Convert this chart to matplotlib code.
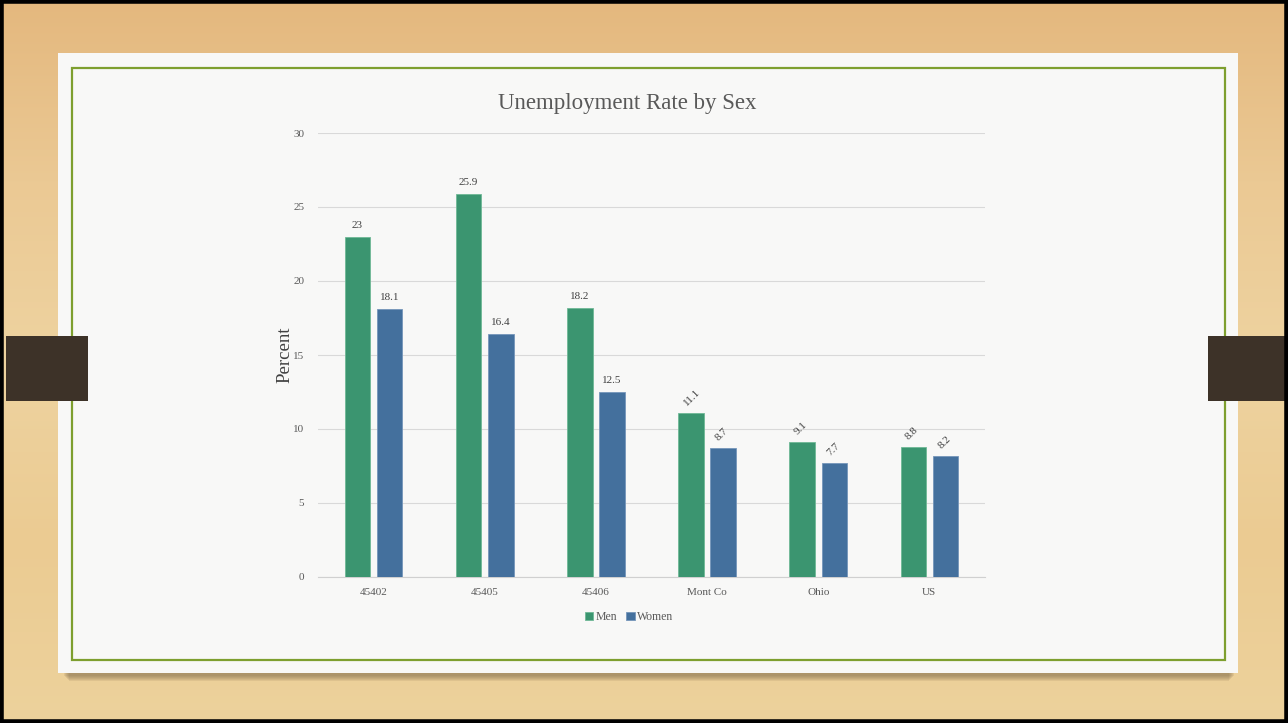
import numpy as np
import matplotlib
matplotlib.use('Agg')
import matplotlib.pyplot as plt
from matplotlib.patches import Rectangle
from matplotlib.colors import LinearSegmentedColormap

# chart data
areas = ['45402', '45405', '45406', 'Mont Co', 'Ohio', 'US']
men = [23, 25.9, 18.2, 11.1, 9.1, 8.8]
women = [18.1, 16.4, 12.5, 8.7, 7.7, 8.2]
y_ticks = [0, 5, 10, 15, 20, 25, 30]

plt.rcParams['font.family'] = ['Liberation Serif', 'DejaVu Serif']

W, H = 1288, 723
fig = plt.figure(figsize=(W / 100, H / 100), dpi=100)
fig.patch.set_facecolor('#EBCB94')

# soft wood-like background gradient
bg = fig.add_axes([0, 0, 1, 1], zorder=0)
bg.axis('off')
wood = LinearSegmentedColormap.from_list('wood', ['#E4B87E', '#EBC994', '#EED3A0', '#EBCB92', '#EDD29C'])
grad = np.linspace(0, 1, 256).reshape(-1, 1)
bg.imshow(grad, cmap=wood, aspect='auto', extent=[0, 1, 0, 1], origin='upper')
bg.set_xlim(0, 1)
bg.set_ylim(0, 1)


def px_rect(x0, y0, x1, y1, **kw):
    # rectangle in pixel coordinates (top-left origin) drawn on the figure
    r = Rectangle((x0 / W, 1 - y1 / H), (x1 - x0) / W, (y1 - y0) / H,
                  transform=fig.transFigure, **kw)
    fig.add_artist(r)
    return r


# card shadow (soft), card, green frame
for i in range(6):
    px_rect(64 + i, 668, 1234 - i, 676 + i, facecolor='#7A6545', edgecolor='none',
            alpha=0.12, zorder=1)
px_rect(58, 53, 1238, 673, facecolor='#F8F8F7', edgecolor='none', zorder=2)
px_rect(72, 68, 1225, 660, facecolor='none', edgecolor='#7E9F2F', linewidth=1.6, zorder=3)

# side clips
px_rect(6, 336, 88, 401, facecolor='#3D3228', edgecolor='none', zorder=4)
px_rect(1208, 336, W, 401, facecolor='#3D3228', edgecolor='none', zorder=4)

# outer black border
px_rect(1, 1, W - 1, H - 1, facecolor='none', edgecolor='black', linewidth=4, zorder=10)

ax = fig.add_axes([318 / W, 1 - 577 / H, (985 - 318) / W, (577 - 133) / H])
ax.set_facecolor('none')
ax.set_zorder(5)

x = np.arange(len(areas))
bw = 0.23
off = 0.145
b1 = ax.bar(x - off, men, bw, color='#3B9570', edgecolor='#6FB896', linewidth=0.6, label='Men', zorder=3)
b2 = ax.bar(x + off, women, bw, color='#44709D', edgecolor='#7596BA', linewidth=0.6, label='Women', zorder=3)

for bars, vals in ((b1, men), (b2, women)):
    for rect, v in zip(bars, vals):
        cx = rect.get_x() + rect.get_width() / 2
        if v >= 12:
            ax.annotate(f'{v:g}', (cx, v), xytext=(0, 5), textcoords='offset points',
                        ha='center', va='bottom', fontsize=8, color='#404040')
        else:
            ax.annotate(f'{v:g}', (cx, v), xytext=(-2, 4), textcoords='offset points',
                        ha='left', va='bottom', rotation=45, rotation_mode='anchor',
                        fontsize=8, color='#404040')

ax.set_xlim(-0.5, len(areas) - 0.5)
ax.set_ylim(0, 30)
ax.set_yticks(y_ticks)
ax.set_xticks(x)
ax.set_xticklabels(areas)
ax.grid(axis='y', color='#D9D9D9', linewidth=0.8, zorder=0)
for s in ['top', 'right', 'left']:
    ax.spines[s].set_visible(False)
ax.spines['bottom'].set_color('#D0D0D0')
ax.tick_params(axis='both', length=0, labelsize=8, labelcolor='#595959')
ax.tick_params(axis='y', pad=10)
ax.tick_params(axis='x', pad=8)

ax.set_ylabel('Percent', fontsize=13.5, color='#404040', labelpad=0)
fig.text(627 / W, 1 - 103 / H, 'Unemployment Rate by Sex', ha='center', va='center',
         fontsize=16.5, color='#595959', zorder=6)

ax.legend(loc='center', bbox_to_anchor=(629 / W, 1 - 617 / H), bbox_transform=fig.transFigure,
          ncol=2, frameon=False, fontsize=8.5,
          labelcolor='#595959', handlelength=0.7, handleheight=0.7, handletextpad=0.2,
          columnspacing=0.8)

fig.savefig('out.png', dpi=100, facecolor=fig.get_facecolor())
